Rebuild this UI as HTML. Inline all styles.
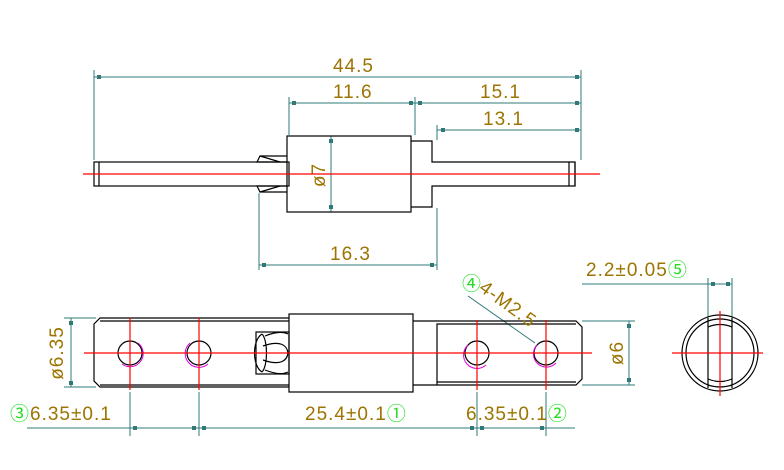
<!DOCTYPE html>
<html><head><style>
html,body{margin:0;padding:0;background:#fff;}
svg{display:block}
text{font-family:"Liberation Sans","Noto Sans CJK SC",sans-serif;font-size:19px;fill:#9c7400;letter-spacing:1px}
.g{fill:#22dd22}
</style></head><body>
<svg width="784" height="470" viewBox="0 0 784 470" xmlns="http://www.w3.org/2000/svg">
<g stroke="#2f7a78" stroke-width="1" fill="none">
 <line x1="94" y1="70" x2="94" y2="160"/><line x1="581" y1="70" x2="581" y2="160"/>
 <line x1="94" y1="77" x2="581" y2="77"/>
 <line x1="289" y1="97" x2="289" y2="135"/><line x1="415" y1="97" x2="415" y2="135"/>
 <line x1="289" y1="103" x2="581" y2="103"/>
 <line x1="437" y1="125" x2="437" y2="140"/>
 <line x1="437" y1="130" x2="581" y2="130"/>
 <line x1="331" y1="136" x2="331" y2="212"/>
 <line x1="259" y1="193" x2="259" y2="270"/><line x1="437" y1="208" x2="437" y2="270"/>
 <line x1="259" y1="265" x2="437" y2="265"/>
 <line x1="64" y1="318" x2="96" y2="318"/><line x1="64" y1="387" x2="96" y2="387"/>
 <line x1="71" y1="318" x2="71" y2="387"/>
 <line x1="582" y1="321" x2="635" y2="321"/><line x1="582" y1="385" x2="635" y2="385"/>
 <line x1="629" y1="321" x2="629" y2="385"/>
 <line x1="582" y1="284" x2="732" y2="284"/>
 <line x1="708" y1="278" x2="708" y2="318"/><line x1="732" y1="278" x2="732" y2="318"/>
 <line x1="27" y1="428" x2="575" y2="428"/>
 <line x1="130" y1="392" x2="130" y2="436"/><line x1="199" y1="392" x2="199" y2="436"/>
 <line x1="477" y1="392" x2="477" y2="436"/><line x1="546" y1="392" x2="546" y2="436"/>
 <line x1="468" y1="296" x2="535" y2="343"/>
</g>
<g fill="#2f7a78">
 <rect x="97" y="75" width="4" height="4"/><rect x="575" y="75" width="4" height="4"/>
 <rect x="292" y="101" width="4" height="4"/><rect x="409" y="101" width="4" height="4"/>
 <rect x="418" y="101" width="4" height="4"/><rect x="575" y="101" width="4" height="4"/>
 <rect x="441" y="128" width="4" height="4"/><rect x="575" y="128" width="4" height="4"/>
 <rect x="329" y="139" width="4" height="4"/><rect x="329" y="205" width="4" height="4"/>
 <rect x="262" y="263" width="4" height="4"/><rect x="430" y="263" width="4" height="4"/>
 <rect x="69" y="321" width="4" height="4"/><rect x="69" y="381" width="4" height="4"/>
 <rect x="627" y="324" width="4" height="4"/><rect x="627" y="378" width="4" height="4"/>
 <rect x="711" y="282" width="4" height="4"/><rect x="726" y="282" width="4" height="4"/>
 <rect x="133" y="426" width="4" height="4"/><rect x="192" y="426" width="4" height="4"/>
 <rect x="202" y="426" width="4" height="4"/><rect x="470" y="426" width="4" height="4"/>
 <rect x="480" y="426" width="4" height="4"/><rect x="540" y="426" width="4" height="4"/>
</g>
<g stroke="#000" stroke-width="1.2" fill="none">
 <rect x="94" y="162" width="195" height="24"/><line x1="99" y1="162" x2="99" y2="186"/>
 <rect x="287" y="136" width="124" height="76"/>
 <path d="M411 141 H432 V162 H575 V186 H432 V207 H411"/>
 <line x1="569" y1="162" x2="569" y2="186"/><line x1="575" y1="162" x2="575" y2="186"/>
 <path d="M287 156 H260 L257 162 H287 M287 192 H260 L257 186 H287"/>
 <path d="M260 156 L280 162 M260 192 L280 186"/>
 <path d="M289 318 H100 L94 324 V381 L100 387 H289"/>
 <line x1="100" y1="321" x2="289" y2="321"/><line x1="100" y1="385" x2="289" y2="385"/>
 <circle cx="130" cy="353" r="12"/><circle cx="199" cy="353" r="12"/>
 <rect x="289" y="314" width="124" height="78"/>
 <rect x="256" y="332" width="33" height="42"/>
 <path d="M262 334 C268 340 268 366 262 372 M262 334 C252 340 252 366 262 372 M263 346 C280 340 287 345 288 353 C287 361 280 366 263 360 M265 336 Q280 330 288 334 M265 370 Q280 376 288 372"/>
 <path d="M413 321 H576 L582 327 V379 L576 385 H413"/>
 <path d="M437 385 V324 H576 M437 382 H576"/>
 <circle cx="477" cy="353" r="12"/><circle cx="546" cy="353" r="12"/>
 <circle cx="720" cy="353" r="38"/><circle cx="720" cy="353" r="34"/>
 <line x1="708" y1="318" x2="708" y2="388"/><line x1="732" y1="318" x2="732" y2="388"/>
 <path d="M708 327 Q720 322 732 327 M708 379 Q720 384 732 379"/>
</g>
<g stroke="#e000e0" stroke-width="1" fill="none">
 <path d="M138 343 A13 13 0 1 1 122 364"/><path d="M190 343 A13 13 0 1 0 208 364"/>
 <path d="M468 345 A13 13 0 0 0 486 365"/><path d="M537 345 A13 13 0 0 0 556 363"/>
</g>
<g stroke="#ff0000" stroke-width="1.2">
 <line x1="83" y1="174" x2="600" y2="174"/>
 <line x1="84" y1="353" x2="592" y2="353"/>
 <line x1="130" y1="318" x2="130" y2="390"/><line x1="199" y1="318" x2="199" y2="390"/>
 <line x1="477" y1="320" x2="477" y2="390"/><line x1="546" y1="320" x2="546" y2="390"/>
 <line x1="672" y1="353" x2="763" y2="353"/><line x1="720" y1="311" x2="720" y2="396"/>
</g>
<text x="333" y="72">44.5</text>
<text x="333" y="98">11.6</text>
<text x="480" y="98">15.1</text>
<text x="483" y="125">13.1</text>
<text x="330" y="260">16.3</text>
<text transform="translate(325,175) rotate(-90)" text-anchor="middle">ø7</text>
<text transform="translate(63,353) rotate(-90)" text-anchor="middle">ø6.35</text>
<text transform="translate(623,353) rotate(-90)" text-anchor="middle">ø6</text>
<text x="586" y="276">2.2±0.05<tspan class="g">⑤</tspan></text>
<text x="10" y="420"><tspan class="g">③</tspan>6.35±0.1</text>
<text x="305" y="420">25.4±0.1<tspan class="g">①</tspan></text>
<text x="466" y="420">6.35±0.1<tspan class="g">②</tspan></text>
<text x="462" y="290" class="g">④</text>
<text transform="translate(478,290) rotate(36)">4-M2.5</text>
</svg>
</body></html>
